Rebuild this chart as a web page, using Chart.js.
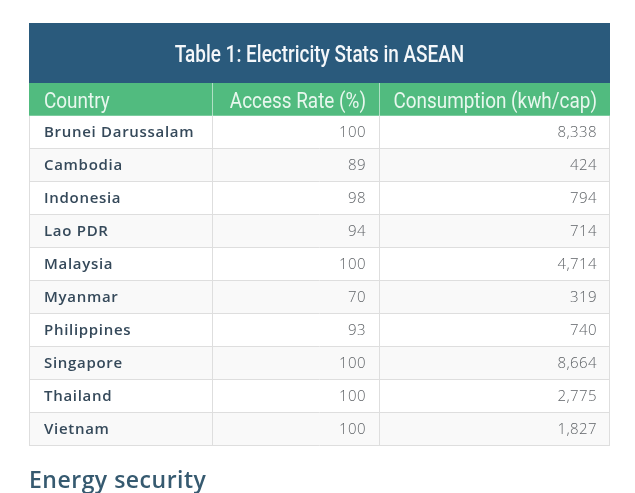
<!DOCTYPE html>
<html>
<head>
<meta charset="utf-8">
<script src="https://cdn.jsdelivr.net/npm/chart.js@4"></script>
<style>
  html, body { margin: 0; padding: 0; background: #ffffff; }
  #wrap { width: 635px; height: 493px; position: relative; }
</style>
</head>
<body>
<div id="wrap"><canvas id="c" width="635" height="493"></canvas></div>
<script>
// ---- data ----
const tableTitle = "Table 1: Electricity Stats in ASEAN";
const columnHeaders = ["Country", "Access Rate (%)", "Consumption (kwh/cap)"];
const categories = ["Brunei Darussalam", "Cambodia", "Indonesia", "Lao PDR", "Malaysia",
                    "Myanmar", "Philippines", "Singapore", "Thailand", "Vietnam"];
const accessRate = [100, 89, 98, 94, 100, 70, 93, 100, 100, 100];
const consumption = [8338, 424, 794, 714, 4714, 319, 740, 8664, 2775, 1827];
const sectionHeading = "Energy security";

// ---- layout / style (not data) ----
const COL_EDGES = [0, 0.315, 0.6024, 1];
const TITLE_BG = "#2a5a7c";
const HEAD_BG = "#51bb7f";
const ROW_BG = ["#ffffff", "#f9f9f9"];
const GRID = "#dedede";
const COND_FONT = "'Roboto', 'Liberation Sans', sans-serif";

const rowLabels = ["header"].concat(categories);
const fmt = v => v.toLocaleString("en-US");
const cellText = [
  [columnHeaders[0]].concat(categories),
  [columnHeaders[1]].concat(accessRate.map(String)),
  [columnHeaders[2]].concat(consumption.map(fmt))
];

const datasets = [0, 1, 2].map(ci => ({
  label: columnHeaders[ci],
  data: rowLabels.map(() => [COL_EDGES[ci], COL_EDGES[ci + 1]]),
  backgroundColor: ctx => ctx.dataIndex === 0 ? HEAD_BG : ROW_BG[(ctx.dataIndex + 1) % 2],
  borderWidth: 0,
  grouped: false,
  barPercentage: 1,
  categoryPercentage: 1
}));

// condensed text (substitute for a condensed face)
function condText(ctx, txt, x, y, align, sx) {
  ctx.save();
  ctx.translate(x, y);
  ctx.scale(sx, 1);
  ctx.textAlign = align;
  ctx.fillText(txt, 0, 0);
  ctx.restore();
}

const tablePlugin = {
  id: "tablePlugin",
  beforeDraw(chart) {
    const ctx = chart.ctx, a = chart.chartArea;
    ctx.save();
    ctx.fillStyle = "#ffffff";
    ctx.fillRect(0, 0, chart.width, chart.height);
    ctx.fillStyle = TITLE_BG;
    ctx.fillRect(a.left, 23, a.right - a.left, a.top - 23);
    ctx.restore();
  },
  afterDatasetsDraw(chart) {
    const ctx = chart.ctx, a = chart.chartArea;
    const xs = chart.scales.x;
    const meta0 = chart.getDatasetMeta(0);
    const headBottom = meta0.data[0].y + meta0.data[0].height / 2;
    ctx.save();
    ctx.strokeStyle = GRID;
    ctx.lineWidth = 1;
    ctx.beginPath();
    meta0.data.forEach((el, i) => {
      if (i === 0) return;
      const yb = Math.round(el.y + el.height / 2) - 0.5;
      ctx.moveTo(a.left, yb); ctx.lineTo(a.right, yb);
    });
    COL_EDGES.forEach((e, k) => {
      let xp = Math.round(xs.getPixelForValue(e));
      xp = k === COL_EDGES.length - 1 ? xp - 0.5 : xp + 0.5;
      ctx.moveTo(xp, headBottom); ctx.lineTo(xp, a.bottom);
    });
    ctx.stroke();
    ctx.strokeStyle = "rgba(255,255,255,0.55)";
    ctx.beginPath();
    COL_EDGES.slice(1, -1).forEach(e => {
      const xp = Math.round(xs.getPixelForValue(e)) + 0.5;
      ctx.moveTo(xp, a.top); ctx.lineTo(xp, headBottom);
    });
    ctx.stroke();

    chart.data.datasets.forEach((ds, ci) => {
      const meta = chart.getDatasetMeta(ci);
      meta.data.forEach((el, ri) => {
        const txt = cellText[ci][ri];
        const left = Math.min(el.x, el.base), right = Math.max(el.x, el.base);
        if (ri === 0) {
          ctx.fillStyle = "#e8f7ee";
          ctx.font = "400 22px " + COND_FONT;
          ctx.textBaseline = "alphabetic";
          if (ci === 0) condText(ctx, txt, left + 15, el.y + 8, "left", 0.86);
          else condText(ctx, txt, right - 13, el.y + 8, "right", 0.86);
        } else if (ci === 0) {
          ctx.textBaseline = "middle";
          ctx.fillStyle = "#35495a";
          ctx.font = "600 15px 'Open Sans', sans-serif";
          ctx.letterSpacing = "0.7px";
          ctx.textAlign = "left";
          ctx.fillText(txt, left + 15, el.y);
          ctx.letterSpacing = "0px";
        } else {
          ctx.textBaseline = "middle";
          ctx.fillStyle = "#606468";
          ctx.font = "300 15px 'Open Sans', sans-serif";
          ctx.letterSpacing = "0.4px";
          ctx.textAlign = "right";
          ctx.fillText(txt, right - 13, el.y);
          ctx.letterSpacing = "0px";
        }
      });
    });

    ctx.fillStyle = "#f4f7fa";
    ctx.font = "500 24px " + COND_FONT;
    ctx.textBaseline = "alphabetic";
    condText(ctx, tableTitle, (a.left + a.right) / 2, 62, "center", 0.79);

    ctx.fillStyle = "#365a70";
    ctx.font = "600 23px 'Open Sans', sans-serif";
    ctx.letterSpacing = "0.5px";
    ctx.textAlign = "left";
    ctx.textBaseline = "alphabetic";
    ctx.fillText(sectionHeading, 29, 488);
    ctx.restore();
  }
};

new Chart(document.getElementById("c"), {
  type: "bar",
  data: { labels: rowLabels, datasets },
  options: {
    indexAxis: "y",
    responsive: false,
    animation: false,
    layout: { padding: { left: 29, right: 25, top: 83, bottom: 47 } },
    scales: {
      x: { type: "linear", min: 0, max: 1, display: false },
      y: { type: "category", display: false, offset: true }
    },
    plugins: { legend: { display: false }, tooltip: { enabled: false }, title: { display: false } }
  },
  plugins: [tablePlugin]
});
</script>
</body>
</html>
